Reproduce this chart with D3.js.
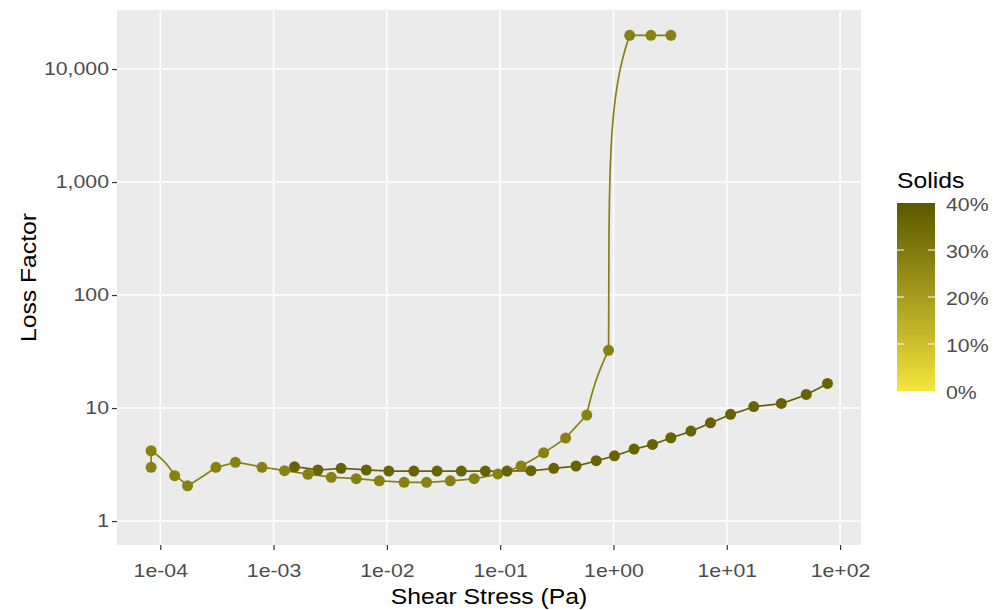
<!DOCTYPE html>
<html>
<head>
<meta charset="utf-8">
<script src="https://cdn.jsdelivr.net/npm/d3@7"></script>
<style>
  html, body { margin: 0; padding: 0; background: #fff; }
  svg { display: block; font-family: "Liberation Sans", Arial, sans-serif; }
</style>
</head>
<body>
<svg id="chart" width="998" height="610"></svg>
<script>
// Loss factor vs shear stress, one line per solids fraction
const solidsLow = 0.28;
const stressLow = [8.3e-5, 8.3e-5, 1.34e-4, 1.74e-4, 3.1e-4, 4.6e-4, 7.9e-4, 1.25e-3, 2.01e-3, 3.23e-3,
  5.37e-3, 8.57e-3, 1.42e-2, 2.24e-2, 3.63e-2, 5.9e-2, 9.55e-2, 0.153, 0.242, 0.378,
  0.581, 0.905, 1.39, 2.14, 3.21];
const lossLow = [2.99, 4.19, 2.52, 2.05, 2.99, 3.31, 2.99, 2.79, 2.59, 2.44,
  2.37, 2.27, 2.20, 2.20, 2.27, 2.37, 2.61, 3.07, 4.02, 5.43,
  8.67, 32.4, 19870, 19870, 19870];

const solidsHigh = 0.37;
const stressHigh = [1.53e-3, 2.46e-3, 3.94e-3, 6.58e-3, 1.04e-2, 1.73e-2, 2.77e-2, 4.54e-2, 7.4e-2, 0.115,
  0.187, 0.297, 0.467, 0.705, 1.02, 1.52, 2.21, 3.21, 4.83, 7.18,
  10.8, 17.3, 30.3, 50.3, 77.4];
const lossHigh = [3.02, 2.83, 2.93, 2.83, 2.77, 2.77, 2.77, 2.77, 2.77, 2.77,
  2.79, 2.93, 3.07, 3.42, 3.78, 4.34, 4.77, 5.46, 6.25, 7.41,
  8.8, 10.3, 11.0, 13.2, 16.5];

const xTicks = [1e-4, 1e-3, 1e-2, 1e-1, 1, 10, 100];
const xTickLabels = ["1e-04", "1e-03", "1e-02", "1e-01", "1e+00", "1e+01", "1e+02"];
const yTicks = [1, 10, 100, 1000, 10000];
const legendTicks = [0, 0.1, 0.2, 0.3, 0.4];

const xLimits = [4.15e-5, 153];
const yLimits = [0.614, 33300];
const solidsLimits = [0, 0.4];

const series = [
  { solids: solidsLow, pts: stressLow.map((x, i) => ({ x, y: lossLow[i] })) },
  { solids: solidsHigh, pts: stressHigh.map((x, i) => ({ x, y: lossHigh[i] })) }
];

const svg = d3.select("#chart");
const panel = { left: 117, right: 861, top: 10, bottom: 545 };
const WIDEN = 1.15;            // glyph width factor for all labels
const tickFont = 18.5, titleFont = 21.5;

// stretch text horizontally while keeping its anchor
function widen(sel) {
  sel.each(function () {
    const w = this.getComputedTextLength();
    d3.select(this).attr("textLength", w * WIDEN).attr("lengthAdjust", "spacingAndGlyphs");
  });
}

const x = d3.scaleLog().domain(xLimits).range([panel.left, panel.right]);
const y = d3.scaleLog().domain(yLimits).range([panel.bottom, panel.top]);
const colour = d3.scaleLinear().domain(solidsLimits)
  .range(["#F6E63D", "#5C5900"]).interpolate(d3.interpolateLab);

// panel background and grid
svg.append("rect")
  .attr("x", panel.left).attr("y", panel.top)
  .attr("width", panel.right - panel.left).attr("height", panel.bottom - panel.top)
  .attr("fill", "#EBEBEB");

svg.append("g").selectAll("line").data(xTicks).join("line")
  .attr("x1", d => x(d)).attr("x2", d => x(d))
  .attr("y1", panel.top).attr("y2", panel.bottom)
  .attr("stroke", "#fff").attr("stroke-width", 1.6);
svg.append("g").selectAll("line").data(yTicks).join("line")
  .attr("y1", d => y(d)).attr("y2", d => y(d))
  .attr("x1", panel.left).attr("x2", panel.right)
  .attr("stroke", "#fff").attr("stroke-width", 1.6);

// axes
const xAxis = d3.axisBottom(x).tickValues(xTicks)
  .tickFormat((d, i) => xTickLabels[i]).tickSize(5).tickPadding(14);
const yAxis = d3.axisLeft(y).tickValues(yTicks)
  .tickFormat(d3.format(",")).tickSize(5).tickPadding(3);

const gx = svg.append("g").attr("transform", `translate(0,${panel.bottom})`).call(xAxis);
const gy = svg.append("g").attr("transform", `translate(${panel.left},0)`).call(yAxis);
[gx, gy].forEach(g => {
  g.select(".domain").remove();
  g.selectAll(".tick line").attr("stroke", "#333").attr("stroke-width", 1.2);
  g.selectAll(".tick text").attr("fill", "#4D4D4D")
    .style("font-size", tickFont + "px").style("font-family", "'Liberation Sans', Arial, sans-serif")
    .call(widen);
});

svg.append("text")
  .attr("x", (panel.left + panel.right) / 2).attr("y", 604)
  .attr("text-anchor", "middle").attr("font-size", titleFont).attr("fill", "#000")
  .text("Shear Stress (Pa)").call(widen);
svg.append("text")
  .attr("transform", `translate(36,${(panel.top + panel.bottom) / 2}) rotate(-90)`)
  .attr("text-anchor", "middle").attr("font-size", titleFont).attr("fill", "#000")
  .text("Loss Factor").call(widen);

// segments are straight in linear data space, drawn through the log scales
function tracePath(pts) {
  const out = [pts[0]];
  for (let i = 1; i < pts.length; i++) {
    const a = pts[i - 1], b = pts[i];
    const n = 60;
    for (let k = 1; k <= n; k++) {
      const t = k / n;
      out.push({ x: a.x + (b.x - a.x) * t, y: a.y + (b.y - a.y) * t });
    }
  }
  return out;
}
const line = d3.line().x(d => x(d.x)).y(d => y(d.y));

const plot = svg.append("g");
plot.selectAll("path").data(series).join("path")
  .attr("d", s => line(tracePath(s.pts)))
  .attr("fill", "none")
  .attr("stroke", s => colour(s.solids))
  .attr("stroke-width", 1.7);

series.forEach(s => {
  plot.append("g").selectAll("circle").data(s.pts).join("circle")
    .attr("cx", d => x(d.x)).attr("cy", d => y(d.y)).attr("r", 5.5)
    .attr("fill", colour(s.solids));
});

// colour bar legend
const bar = { x: 897, y: 203, w: 38, h: 188 };
const grad = svg.append("defs").append("linearGradient")
  .attr("id", "solidsGrad").attr("x1", 0).attr("y1", 1).attr("x2", 0).attr("y2", 0);
d3.range(0, 1.0001, 0.05).forEach(t => {
  grad.append("stop").attr("offset", t)
    .attr("stop-color", colour(solidsLimits[0] + t * (solidsLimits[1] - solidsLimits[0])));
});
const legendY = d3.scaleLinear().domain(solidsLimits).range([bar.y + bar.h, bar.y]);

svg.append("text").attr("x", 897).attr("y", 188)
  .attr("font-size", titleFont).attr("fill", "#000").text("Solids").call(widen);
svg.append("rect").attr("x", bar.x).attr("y", bar.y)
  .attr("width", bar.w).attr("height", bar.h).attr("fill", "url(#solidsGrad)");

const inner = legendTicks.filter(d => d > solidsLimits[0] && d < solidsLimits[1]);
svg.append("g").selectAll("line").data(inner).join("line")
  .attr("x1", bar.x).attr("x2", bar.x + 7)
  .attr("y1", d => legendY(d)).attr("y2", d => legendY(d))
  .attr("stroke", "#fff").attr("stroke-width", 1);
svg.append("g").selectAll("line").data(inner).join("line")
  .attr("x1", bar.x + bar.w - 7).attr("x2", bar.x + bar.w)
  .attr("y1", d => legendY(d)).attr("y2", d => legendY(d))
  .attr("stroke", "#fff").attr("stroke-width", 1);

svg.append("g").selectAll("text").data(legendTicks).join("text")
  .attr("x", bar.x + bar.w + 11).attr("y", d => legendY(d) + 2)
  .attr("dy", "0.35em").attr("font-size", tickFont).attr("fill", "#4D4D4D")
  .text(d3.format(".0%")).call(widen);
</script>
</body>
</html>
